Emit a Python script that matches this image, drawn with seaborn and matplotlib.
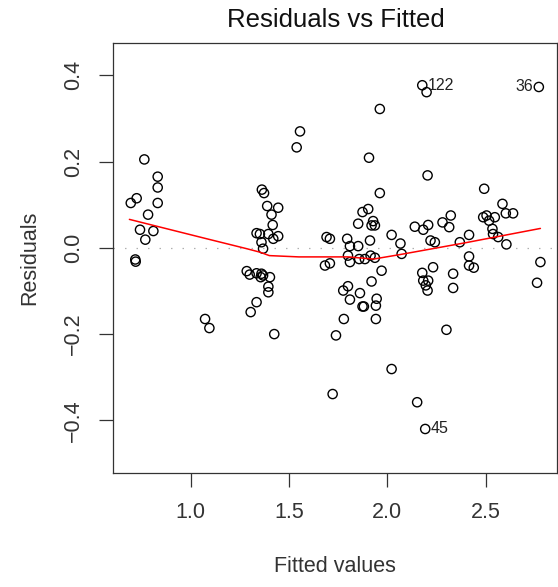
import matplotlib
matplotlib.use("Agg")
import matplotlib.pyplot as plt
import seaborn as sns
import pandas as pd

sns.set_theme(style="white")
plt.rcParams["font.family"] = ["Liberation Sans", "DejaVu Sans"]

# Fitted values and residuals of the model
fitted = [
    0.764, 0.832, 0.832, 0.832, 0.695, 0.725, 0.783, 0.742, 0.810, 0.769, 0.718, 0.720,
    1.073, 1.095,
    1.362, 1.373, 1.389, 1.445, 1.411, 1.417, 1.335, 1.352, 1.395, 1.445, 1.420, 1.360,
    1.368, 1.285, 1.300, 1.335, 1.360, 1.356, 1.368, 1.403, 1.395, 1.395, 1.335, 1.305, 1.425,
    1.556, 1.539,
    1.962, 1.907, 1.962, 1.691, 1.708, 1.796, 1.874, 1.903, 1.852, 1.928, 1.937, 1.920,
    2.022, 1.912, 2.067, 1.852, 1.810, 1.800, 1.810, 1.857, 1.886, 1.915, 1.937, 1.683,
    1.708, 1.971, 1.920, 1.776, 1.800, 1.810, 1.861, 1.874, 1.881, 1.946, 1.942, 1.942,
    1.779, 1.739, 2.022, 1.722, 2.073,
    2.178, 2.200, 2.771, 2.205, 2.493, 2.586, 2.603, 2.640, 2.488, 2.505, 2.547, 2.518,
    2.323, 2.281, 2.315, 2.208, 2.140, 2.183, 2.535, 2.538, 2.416, 2.564, 2.220, 2.242,
    2.369, 2.606, 2.416, 2.416, 2.440, 2.233, 2.178, 2.335, 2.183, 2.208, 2.196, 2.205,
    2.335, 2.779, 2.762, 2.301, 2.152, 2.193,
]
residuals = [
    0.205, 0.165, 0.140, 0.104, 0.104, 0.115, 0.077, 0.042, 0.039, 0.019, -0.027, -0.032,
    -0.165, -0.186,
    0.135, 0.127, 0.097, 0.093, 0.077, 0.053, 0.034, 0.032, 0.032, 0.027, 0.021, 0.013,
    -0.002, -0.054, -0.062, -0.059, -0.060, -0.068, -0.064, -0.068, -0.090, -0.103, -0.126,
    -0.149, -0.200,
    0.270, 0.233,
    0.322, 0.209, 0.127, 0.025, 0.021, 0.021, 0.083, 0.090, 0.056, 0.062, 0.052, 0.052,
    0.030, 0.017, 0.010, 0.004, 0.004, -0.018, -0.033, -0.026, -0.026, -0.018, -0.023, -0.041,
    -0.036, -0.053, -0.078, -0.099, -0.089, -0.120, -0.105, -0.136, -0.136, -0.118, -0.134,
    -0.165, -0.165, -0.203, -0.281, -0.339, -0.014,
    0.377, 0.361, 0.373, 0.168, 0.137, 0.102, 0.080, 0.080, 0.071, 0.075, 0.071, 0.063,
    0.075, 0.059, 0.048, 0.053, 0.049, 0.042, 0.044, 0.032, 0.030, 0.025, 0.017, 0.013,
    0.013, 0.008, -0.020, -0.041, -0.046, -0.045, -0.058, -0.060, -0.076, -0.076, -0.087,
    -0.099, -0.093, -0.033, -0.081, -0.190, -0.358, -0.420,
]

# Smoothed trend of residuals
smooth_x = [0.688, 1.073, 1.285, 1.352, 1.40, 1.55, 1.80, 1.93, 2.06, 2.40, 2.779]
smooth_y = [0.066, 0.022, -0.002, -0.010, -0.018, -0.021, -0.021, -0.026, -0.016, 0.012, 0.045]

# Observations flagged with their index
flag_ids = ["122", "36", "45"]
flag_x = [2.178, 2.771, 2.193]
flag_y = [0.377, 0.373, -0.420]
flag_side = ["right", "left", "right"]

df = pd.DataFrame({"fitted": fitted, "residuals": residuals})
smooth = pd.DataFrame({"x": smooth_x, "y": smooth_y})

fig = plt.figure(figsize=(5.58, 5.87), dpi=100)
ax = fig.add_axes([0.203, 0.195, 0.7947, 0.7325])

ax.axhline(0, color="#b0b0b0", lw=0.9, linestyle=(0, (1.2, 8)), zorder=1)

sns.scatterplot(data=df, x="fitted", y="residuals", ax=ax, marker="o",
                facecolors="none", edgecolor="black", s=44, linewidth=1.0, zorder=3)
sns.lineplot(data=smooth, x="x", y="y", ax=ax, color="red", lw=1.1,
             sort=False, estimator=None, zorder=4)

for lab, x, y, side in zip(flag_ids, flag_x, flag_y, flag_side):
    off = 4 if side == "right" else -4
    ax.annotate(lab, (x, y), xytext=(off, 0), textcoords="offset points",
                ha="left" if side == "right" else "right", va="center",
                fontsize=11.5, color="#222222")

ax.set_xlim(0.606, 2.862)
ax.set_ylim(-0.521, 0.476)
ax.set_xticks([1.0, 1.5, 2.0, 2.5])
ax.set_xticklabels(["1.0", "1.5", "2.0", "2.5"])
ax.set_yticks([-0.4, -0.2, 0.0, 0.2, 0.4])
ax.set_yticklabels(["\u22120.4", "\u22120.2", "0.0", "0.2", "0.4"], rotation=90, va="center")

for s in ax.spines.values():
    s.set_visible(True)
    s.set_color("#333333")
    s.set_linewidth(0.9)

ax.tick_params(axis="both", direction="out", length=10, width=0.9, color="#333333",
               labelsize=15.5, labelcolor="#333333", pad=11)
ax.tick_params(axis="x", bottom=True)
ax.tick_params(axis="y", left=True)

ax.set_xlabel("Fitted values", fontsize=15.5, color="#333333")
ax.set_ylabel("Residuals", fontsize=15.5, color="#333333")
ax.xaxis.set_label_coords(0.5, -0.219)
ax.xaxis.label.set_verticalalignment("center")
ax.yaxis.set_label_coords(-0.188, 0.5)
ax.yaxis.label.set_verticalalignment("center")

fig.text(0.6025, 0.966, "Residuals vs Fitted", ha="center", va="center",
         fontsize=18.5, color="#111111")

fig.savefig("out.png", dpi=100)
